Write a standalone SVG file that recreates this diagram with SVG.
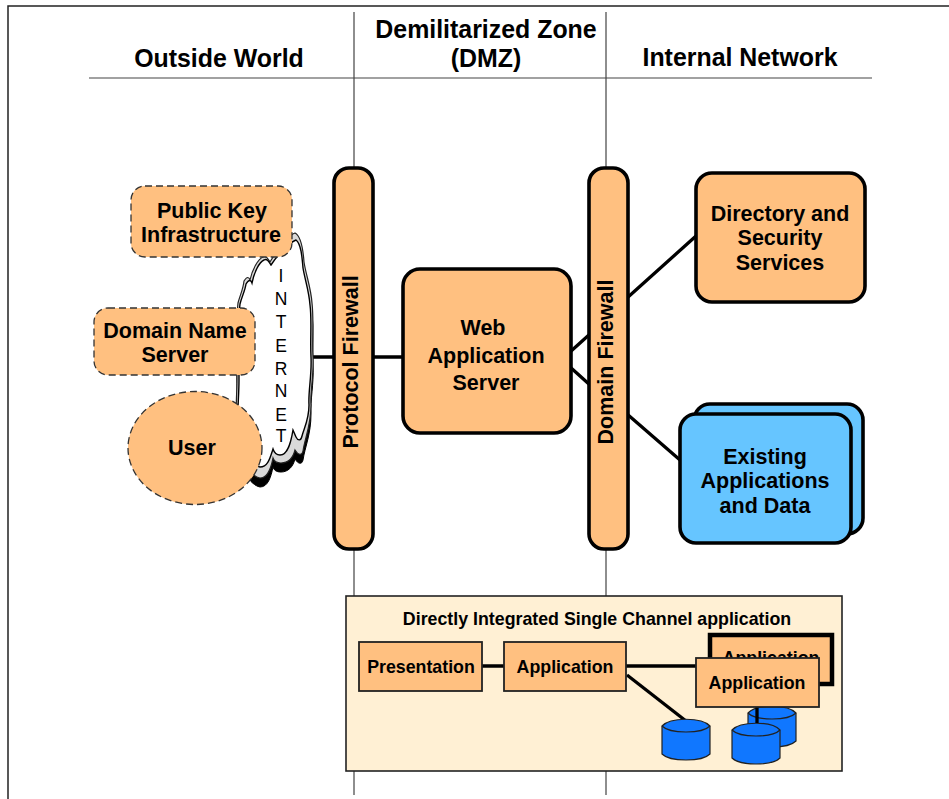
<svg xmlns="http://www.w3.org/2000/svg" width="949" height="799" viewBox="0 0 949 799">
<defs>
<style>
text{font-family:"Liberation Sans",Arial,sans-serif;font-weight:700;fill:#000;text-anchor:middle}
.h{font-size:24.9px}
.n{font-size:21.5px}
.s{font-size:17.8px}
.t{font-size:17.8px}
.i{font-size:17.5px;font-weight:400}
.o{fill:#ffc080;stroke:#000;stroke-width:3.600}
.d{fill:#ffc080;stroke:#333;stroke-width:1.3;stroke-dasharray:7 4}
.b{fill:#66c5ff;stroke:#000;stroke-width:3.600}
.r{fill:#ffc080;stroke:#222;stroke-width:1.800}
.c{fill:#1077ff;stroke:#222;stroke-width:1.200}
.l{stroke:#000;stroke-width:3.300;fill:none}
.g{stroke:#444;stroke-width:1.2;fill:none}
</style>
<path id="cg" d="M295 233C301 236 303 248 304 262C306 275 311 288 312 303C314 320 312 340 313 357C314 375 310 392 311 405C311 425 305 438 303 451C302 456 298 455 295 450C293 458 288 463 281 463C276 463 274 461 273 458C271 468 268 478 260 478C250 476 240 460 238 440C234 420 237 400 237 380C237 350 236 320 238 303C240 295 243 290 244 281C247 276 249 277 250 280C252 270 258 259 263 257C266 255 268 259 270 262C276 252 286 236 295 233Z"/>
<path id="cw" d="M296 240C301 244 302 256 303 268C305 280 309 291 310 305C312 320 310 340 311 357C312 375 308 392 309 405C309 420 304 428 302 436C301 441 298 441 296 437C295 435 294 432 293 430C291 442 288 455 280 455C276 455 274 452 273 449C270 458 268 467 260 467C250 465 241 452 239 440C236 420 239 400 239 380C239 350 238 320 240 304C242 296 245 291 246 284C249 279 251 280 252 283C254 273 259 262 264 260C267 258 269 262 271 265C277 256 288 243 296 240Z"/>
</defs>
<rect width="949" height="799" fill="#fff"/>
<g id="frame" class="g">
<path d="M8 799V6H949" style="stroke:#222;stroke-width:1.500"/>
<path d="M89 78H872"/>
<path d="M354 12V795M606 12V795"/>
</g>
<g id="headers">
<text class="h" x="219" y="67">Outside World</text>
<text class="h" x="486" y="38">Demilitarized Zone</text>
<text class="h" x="486" y="67">(DMZ)</text>
<text class="h" x="740" y="66">Internal Network</text>
</g>
<g id="connectors">
<path class="l" d="M310 357H336M372 357H404"/>
<path class="l" d="M570 352L590 334M570 367L590 385"/>
<path class="l" d="M627 298L696 236M627 414L680 460"/>
</g>
<g id="internet">
<use href="#cg" transform="translate(0 9)" fill="#000" stroke="#000"/>
<use href="#cg" fill="#d9d9d9" stroke="#222" stroke-width="1.200"/>
<use href="#cw" fill="#fff" stroke="#000" stroke-width="1.400"/>
<text class="i" x="281" y="282">I</text><text class="i" x="281" y="305">N</text><text class="i" x="281" y="328">T</text><text class="i" x="281" y="352">E</text><text class="i" x="281" y="375">R</text><text class="i" x="281" y="397">N</text><text class="i" x="281" y="421">E</text><text class="i" x="281" y="442">T</text>
</g>
<g id="pki"><rect class="d" x="131" y="186" width="161" height="71" rx="14"/><text class="n" x="212" y="218">Public Key</text><text class="n" x="211" y="242">Infrastructure</text></g>
<g id="dns"><rect class="d" x="94" y="308" width="161" height="67" rx="14"/><text class="n" x="175" y="338">Domain Name</text><text class="n" x="175" y="362">Server</text></g>
<g id="user"><ellipse class="d" cx="195" cy="448" rx="67" ry="56.500"/><text class="n" x="192" y="455">User</text></g>
<g id="protocol-firewall"><rect class="o" x="334" y="168" width="39" height="381" rx="15"/><text class="n" transform="translate(358 362) rotate(-90)">Protocol Firewall</text></g>
<g id="web-app-server"><rect class="o" x="403" y="269" width="168" height="164" rx="17"/><text class="n" x="483" y="335">Web</text><text class="n" x="486" y="363">Application</text><text class="n" x="486" y="390">Server</text></g>
<g id="domain-firewall"><rect class="o" x="589" y="168" width="39" height="381" rx="15"/><text class="n" transform="translate(613 362) rotate(-90)">Domain Firewall</text></g>
<g id="directory"><rect class="o" x="696" y="173" width="169" height="129" rx="16"/><text class="n" x="780" y="221">Directory and</text><text class="n" x="780" y="245">Security</text><text class="n" x="780" y="270">Services</text></g>
<g id="existing"><rect class="b" x="694" y="404" width="169" height="130" rx="16"/><rect class="b" x="680" y="414" width="171" height="129" rx="16"/><text class="n" x="765" y="464">Existing</text><text class="n" x="765" y="488">Applications</text><text class="n" x="765" y="513">and Data</text></g>
<g id="channel-panel"><rect x="346" y="596" width="496" height="175" fill="#fff0d4" stroke="#222" stroke-width="1.600"/><text class="t" x="597" y="625">Directly Integrated Single Channel application</text></g>
<g id="panel-connectors">
<path class="l" d="M482 666H504M626 666H700"/>
<path class="l" d="M627 675L686 721"/>
</g>
<g id="db-1"><path class="c" d="M662 726C670 717 702 717 710 726V754C702 762 670 762 662 754Z"/><path class="c" style="fill:none" d="M662 726C670 734 702 734 710 726"/></g>
<g id="db-2"><path class="c" d="M748 713C756 704 788 704 796 713V741C788 749 756 749 748 741Z"/><path class="c" style="fill:none" d="M748 713C756 721 788 721 796 713"/></g>
<g id="db-3"><path class="c" d="M732 730C740 721 772 721 780 730V758C772 766 740 766 732 758Z"/><path class="c" style="fill:none" d="M732 730C740 738 772 738 780 730"/></g>
<path class="l" d="M757 705V723"/>
<g id="presentation"><rect class="r" x="359" y="642" width="123" height="49"/><text class="s" x="421" y="673">Presentation</text></g>
<g id="application"><rect class="r" x="504" y="642" width="122" height="49"/><text class="s" x="565" y="673">Application</text></g>
<g id="application-back"><rect x="710" y="635" width="122" height="49" fill="#ffc080" stroke="#000" stroke-width="4.500"/><text class="s" x="771" y="664">Application</text></g>
<g id="application-front"><rect class="r" x="696" y="658" width="123" height="49"/><text class="s" x="757" y="689">Application</text></g>
</svg>
